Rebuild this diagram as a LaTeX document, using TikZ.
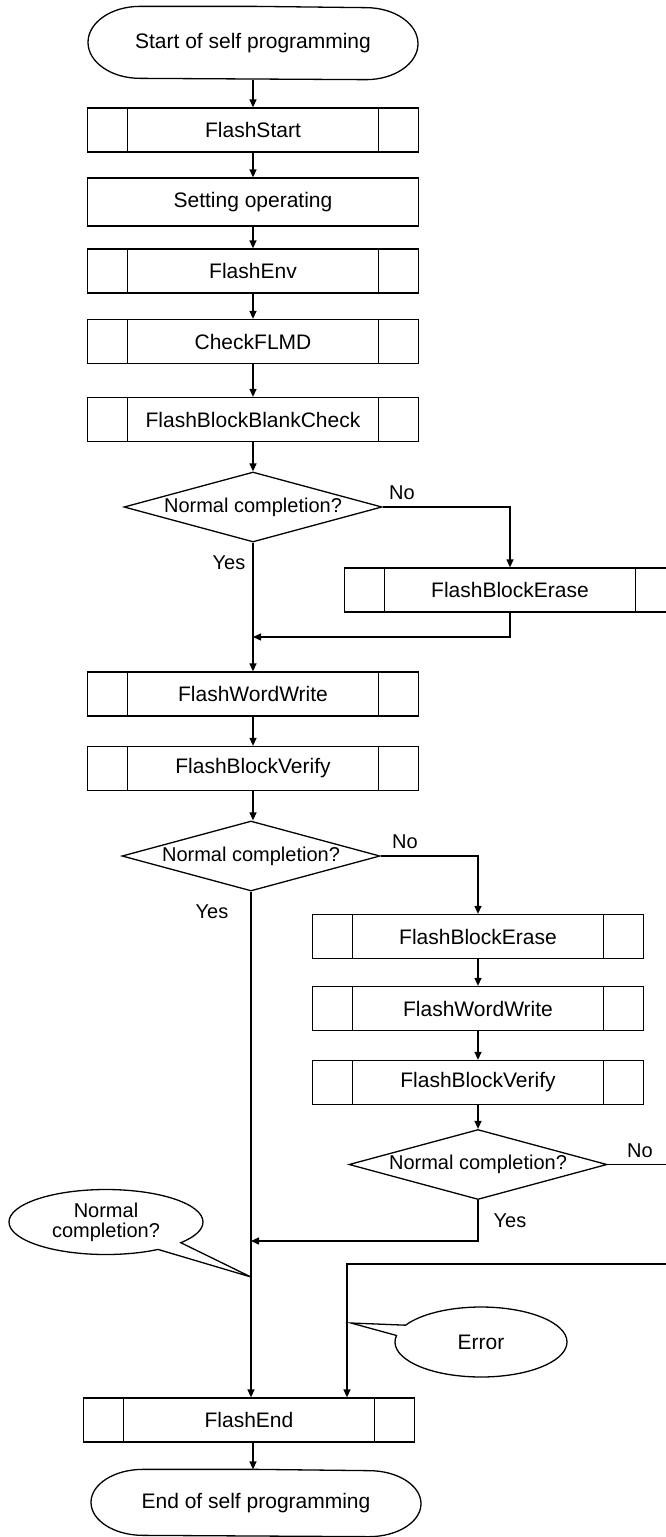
\documentclass[tikz,border=0pt]{standalone}
\usepackage{fontspec}
\setmainfont{Liberation Sans}
\usetikzlibrary{positioning, shapes.geometric, shapes.callouts, arrows.meta}

\tikzset{
  subbox/.style={draw, rectangle, minimum width=331pt, minimum height=44pt, inner sep=0pt,
    path picture={\draw ([xshift=40pt]path picture bounding box.north west) -- ([xshift=40pt]path picture bounding box.south west)
      ([xshift=-40pt]path picture bounding box.north east) -- ([xshift=-40pt]path picture bounding box.south east);}},
  procbox/.style={draw, rectangle, minimum width=331pt, minimum height=48pt},
  termbox/.style={minimum width=330pt, minimum height=66pt},
  decision/.style={draw, diamond, aspect=3.69, inner sep=0pt, minimum width=258pt, minimum height=70pt,
    font=\fontsize{20}{24}\selectfont},
  bubble/.style={draw, ellipse callout, callout pointer arc=18, align=center, inner sep=1pt},
  lbl/.style={font=\fontsize{20}{24}\selectfont},
  arr/.style={-{Triangle[length=8pt,width=7pt]}},
}

% terminal outline with elliptic ends
\newcommand{\termline}[2]{%
  \draw (#1.north) -- ([xshift=-113pt]#1.north) arc[start angle=90, end angle=270, x radius=52pt, y radius=#2pt]
    -- ([xshift=113pt]#1.south) arc[start angle=-90, end angle=90, x radius=52pt, y radius=#2pt] -- cycle;}

\begin{document}
\begin{tikzpicture}[x=1pt, y=1pt, line width=1.3pt, font=\fontsize{21}{25}\selectfont]
  \useasboundingbox (0,0) rectangle (666,-1537);
  \clip (0,0) rectangle (666,-1537);

  % main column
  \node[termbox, minimum height=72pt] (start) at (253,-43) {Start of self programming};
  \termline{start}{36}
  \node[subbox] (fstart) at (253,-130) {FlashStart};
  \node[procbox] (setop) at (253,-202) {Setting operating};
  \node[subbox] (fenv) at (253,-271) {FlashEnv};
  \node[subbox] (chkflmd) at (253,-341.5) {CheckFLMD};
  \node[subbox] (blank) at (253,-419.5) {FlashBlockBlankCheck};
  \node[decision] (dec1) at (253,-507) {Normal completion?};
  \node[subbox] (erase1) at (510,-590) {FlashBlockErase};
  \coordinate (join1) at (253,-637);
  \node[subbox] (ww1) at (253,-694) {FlashWordWrite};
  \node[subbox] (bv1) at (253,-768.5) {FlashBlockVerify};
  \node[decision] (dec2) at (251,-856) {Normal completion?};

  % retry column
  \node[subbox] (erase2) at (478,-936.5) {FlashBlockErase};
  \node[subbox] (ww2) at (478,-1008.5) {FlashWordWrite};
  \node[subbox] (bv2) at (478,-1082.5) {FlashBlockVerify};
  \node[decision] (dec3) at (478,-1164.5) {Normal completion?};
  \coordinate (join2) at (251,-1241);
  \coordinate (loopR) at (700,-1264);
  \coordinate (errin) at (347,-1264);

  \node[subbox] (fend) at (249,-1420) {FlashEnd};
  \node[termbox] (endt) at (256,-1503) {End of self programming};
  \termline{endt}{33}

  % labels
  \node[lbl] (no1) at (402,-493) {No};
  \node[lbl] (yes1) at (229,-563) {Yes};
  \node[lbl] (no2) at (405,-842) {No};
  \node[lbl] (yes2) at (212,-912) {Yes};
  \node[lbl] (no3) at (640,-1151) {No};
  \node[lbl] (yes3) at (510,-1221) {Yes};

  % comments
  \coordinate (tipA) at (251,-1277);
  \node[bubble, minimum width=194pt, minimum height=65pt, font=\fontsize{20}{20}\selectfont,
    callout absolute pointer={(tipA)}] (cmtok) at (106,-1222) {Normal\\completion?};
  \coordinate (tipB) at (351,-1323);
  \node[bubble, minimum width=172pt, minimum height=70pt,
    callout absolute pointer={(tipB)}] (cmterr) at (481,-1342) {Error};

  % connectors
  \draw[arr] (start) -- (fstart);
  \draw[arr] (fstart) -- (setop);
  \draw[arr] (setop) -- (fenv);
  \draw[arr] (fenv) -- (chkflmd);
  \draw[arr] (chkflmd) -- (blank);
  \draw[arr] (blank) -- (dec1);
  \draw[arr] (dec1.east) -| (erase1.north);
  \draw[arr] (erase1.south) |- (join1);
  \draw[arr] (dec1.south) -- (ww1.north);
  \draw[arr] (ww1) -- (bv1);
  \draw[arr] (bv1.south) -- (bv1.south |- dec2.north);
  \draw[arr] (dec2.east) -| (erase2.north);
  \draw[arr] (erase2) -- (ww2);
  \draw[arr] (ww2) -- (bv2);
  \draw[arr] (bv2) -- (dec3);
  \draw[arr] (dec3.south) |- (join2);
  \draw[arr] (dec3.east) -| (loopR) -- (errin) -- (errin |- fend.north);
  \draw[arr] (dec2.south) -- (dec2.south |- fend.north);
  \draw[arr] ([xshift=4pt]fend.south) -- ([xshift=4pt]fend.south |- endt.north);
\end{tikzpicture}
\end{document}
